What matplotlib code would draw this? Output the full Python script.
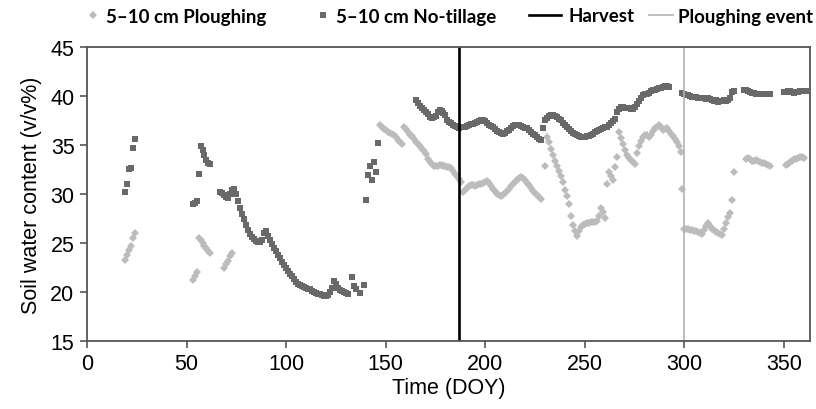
import matplotlib.pyplot as plt
import numpy as np

# Day of year (DOY) where each segment of daily readings starts
nt_starts = [19, 53, 67, 140, 165, 299, 330, 350]
pl_starts = [19, 53, 69, 147, 230, 299, 331, 351]

# 5-10 cm No-tillage soil water content (v/v%), daily readings per segment
nt_a = [30.2, 31.0, 32.5, 32.6, 34.7, 35.6]
nt_b = [29.0, 29.1, 29.3, 32.0, 34.9, 34.5, 34.0, 33.5, 33.2, 33.1]
nt_c = [30.2, 30.1, 29.9, 29.7, 29.6, 30.0, 30.4, 30.5, 30.0, 29.3,
        28.6, 28.0, 27.4, 26.8, 26.3, 25.9, 25.6, 25.4, 25.2, 25.1,
        25.1, 25.3, 26.0, 26.2, 25.7, 25.3, 24.9, 24.5, 24.2, 23.8,
        23.5, 23.1, 22.7, 22.4, 22.1, 21.8, 21.6, 21.3, 21.0, 20.8,
        20.7, 20.6, 20.5, 20.4, 20.3, 20.3, 20.1, 20.0, 19.9, 19.8,
        19.8, 19.7, 19.6, 19.6, 19.7, 20.0, 20.4, 21.1, 20.8, 20.4,
        20.2, 20.1, 20.0, 19.9, 19.8]
nt_d = [29.4, 31.9, 32.9, 31.4, 33.3, 32.2, 35.2]
nt_e = [39.6, 39.3, 39.0, 38.8, 38.6, 38.4, 38.2, 37.9, 37.8, 37.9,
        38.0, 38.4, 38.6, 38.5, 38.3, 38.1, 37.5, 37.3, 37.2, 37.0,
        36.9, 36.8, 36.7, 36.8, 36.8, 36.8, 36.9, 37.0, 37.1, 37.1,
        37.2, 37.3, 37.4, 37.5, 37.5, 37.4, 37.2, 37.0, 36.9, 36.8,
        36.6, 36.4, 36.3, 36.2, 36.1, 36.2, 36.4, 36.5, 36.7, 36.9,
        37.0, 37.0, 37.0, 36.9, 36.8, 36.7, 36.7, 36.5, 36.3, 36.1,
        36.0, 35.8, 35.6, 35.5, 36.7, 37.5, 37.8, 38.0, 38.1, 38.1,
        38.0, 37.9, 37.7, 37.5, 37.2, 37.0, 36.8, 36.6, 36.4, 36.2,
        36.1, 36.0, 35.9, 35.8, 35.8, 35.8, 35.9, 35.9, 36.0, 36.1,
        36.3, 36.4, 36.5, 36.6, 36.7, 36.8, 36.8, 37.0, 37.2, 37.4,
        37.6, 38.4, 38.7, 38.9, 38.9, 38.8, 38.8, 38.8, 38.7, 38.7,
        38.9, 39.2, 39.5, 39.8, 40.1, 40.2, 40.2, 40.3, 40.5, 40.6,
        40.6, 40.7, 40.8, 40.8, 40.9, 41.0, 41.0, 40.9]
nt_f = [40.3, 40.2, 40.1, 40.1, 40.0, 39.9, 39.9, 39.9, 39.8, 39.8,
        39.8, 39.8, 39.7, 39.8, 39.7, 39.6, 39.5, 39.6, 39.4, 39.5,
        39.5, 39.6, 39.5, 39.6, 39.8, 40.4, 40.5]
nt_g = [40.6, 40.6, 40.5, 40.4, 40.3, 40.3, 40.2, 40.2, 40.2, 40.2,
        40.2, 40.2, 40.2, 40.2]
nt_h = [40.4, 40.4, 40.5, 40.5, 40.4, 40.3, 40.4, 40.4, 40.5, 40.5,
        40.5, 40.5]
# scattered no-tillage readings late in the dry spell
nt_extra_doy = [133, 134, 135, 137, 139]
nt_extra = [21.5, 20.6, 20.3, 19.9, 20.7]

# 5-10 cm Ploughing soil water content (v/v%)
pl_a = [23.3, 23.8, 24.3, 24.7, 25.5, 26.0]
pl_b = [21.2, 21.6, 22.0, 25.5, 25.3, 25.0, 24.7, 24.5, 24.2, 24.0]
pl_c = [22.4, 22.9, 23.2, 23.7, 24.0]
pl_d = [37.0, 36.8, 36.6, 36.5, 36.3, 36.2, 36.1, 36.0, 35.8, 35.5,
        35.3, 35.1, 36.8, 36.6, 36.3, 36.0, 35.9, 35.6, 35.3, 35.1,
        34.9, 34.6, 34.4, 34.1, 33.6, 33.3, 33.1, 32.9, 32.9, 32.9,
        33.0, 33.0, 32.9, 32.9, 32.8, 32.7, 32.6, 32.3, 32.0, 31.8,
        31.5, 31.2, 30.2, 30.4, 30.6, 30.8, 30.9, 30.9, 30.8, 30.9,
        31.0, 31.0, 31.1, 31.2, 31.3, 31.1, 30.8, 30.5, 30.3, 30.0,
        29.9, 29.8, 29.9, 30.1, 30.3, 30.5, 30.8, 31.0, 31.2, 31.4,
        31.6, 31.7, 31.6, 31.4, 31.1, 30.9, 30.6, 30.3, 30.1, 29.9,
        29.7, 29.5]
pl_e = [32.9, 35.8, 35.3, 34.6, 34.0, 33.4, 32.9, 32.3, 31.8, 31.2,
        30.4, 29.8, 29.0, 27.8, 26.8, 26.2, 25.7, 26.2, 26.6, 26.8,
        26.9, 27.0, 27.0, 27.1, 27.1, 27.1, 27.2, 27.8, 28.6, 28.2,
        27.5, 31.0, 32.2, 31.8, 31.4, 32.8, 33.8, 36.3, 35.7, 35.1,
        34.5, 34.0, 33.7, 33.5, 33.3, 33.1, 34.2, 34.9, 35.4, 35.8,
        36.0, 36.0, 35.8, 36.0, 36.4, 36.7, 36.8, 37.0, 36.8, 36.5,
        36.6, 36.7, 36.4, 36.1, 35.9, 35.6, 35.3, 34.9, 34.3]
pl_f = [30.5, 26.4, 26.4, 26.4, 26.3, 26.3, 26.2, 26.2, 26.1, 26.0,
        25.9, 26.3, 26.7, 27.0, 26.7, 26.4, 26.3, 26.1, 26.0, 25.9,
        25.8, 26.4, 27.0, 27.6, 28.1, 29.4, 32.2]
pl_g = [33.6, 33.7, 33.6, 33.4, 33.4, 33.5, 33.4, 33.3, 33.2, 33.2,
        33.1, 33.0, 32.9]
pl_h = [33.0, 33.1, 33.3, 33.4, 33.6, 33.6, 33.7, 33.8, 33.8, 33.7]

harvest_doy = 187
ploughing_doy = 300


def join(starts, segments):
    doy = np.concatenate([s + np.arange(len(v)) for s, v in zip(starts, segments)])
    return doy, np.concatenate(segments)


nt_doy, nt_swc = join(nt_starts, [nt_a, nt_b, nt_c, nt_d, nt_e, nt_f, nt_g, nt_h])
nt_doy = np.concatenate([nt_doy, nt_extra_doy])
nt_swc = np.concatenate([nt_swc, nt_extra])
pl_doy, pl_swc = join(pl_starts, [pl_a, pl_b, pl_c, pl_d, pl_e, pl_f, pl_g, pl_h])

plt.rcParams['font.family'] = ['Liberation Sans', 'DejaVu Sans']

W, H = 816, 410
fig = plt.figure(figsize=(W / 100, H / 100), dpi=100)
ax = fig.add_axes([0.1066, 0.166, 0.886, 0.717])

light = '#bcbcbc'
dark = '#696969'

h_pl, = ax.plot(pl_doy, pl_swc, linestyle='none', marker='D', markersize=3.6,
                color=light, markeredgewidth=0)
h_nt, = ax.plot(nt_doy, nt_swc, linestyle='none', marker='s', markersize=4.4,
                color=dark, markeredgewidth=0)
h_hv = ax.axvline(harvest_doy, color='black', linewidth=1.9)
h_pe = ax.axvline(ploughing_doy, color='#b4b4b4', linewidth=1.2)

ax.set_xlim(0, 363)
ax.set_ylim(15, 45)
ax.set_xticks(np.arange(0, 351, 50))
ax.set_yticks(np.arange(15, 46, 5))
ax.tick_params(labelsize=15.5, length=5, width=1.2, color='#555555', pad=4)
for sp in ax.spines.values():
    sp.set_color('#555555')
    sp.set_linewidth(1.3)

ax.set_xlabel('Time (DOY)', fontsize=15.5, labelpad=2)
ax.set_ylabel('Soil water content (v/v%)', fontsize=15.5, labelpad=6)

# legend entries sit at uneven spacing, so each one is placed on its own
legend_font = {'family': 'Lato', 'weight': 'bold', 'size': 13.5}
entries = [
    (h_pl, '5\u201310 cm Ploughing', 85, 0.8, 0.3),
    (h_nt, '5\u201310 cm No-tillage', 315, 0.8, 0.3),
    (h_hv, 'Harvest', 529, 1.7, 0.42),
    (h_pe, 'Ploughing event', 649, 1.3, 0.26),
]
for handle, label, x0, hl, pad in entries:
    fig.legend([handle], [label], loc='center left',
               bbox_to_anchor=(x0 / W, 1 - 17 / H), frameon=False,
               borderpad=0, borderaxespad=0, handlelength=hl,
               handletextpad=pad, prop=legend_font)

fig.savefig('out.png', dpi=100)
